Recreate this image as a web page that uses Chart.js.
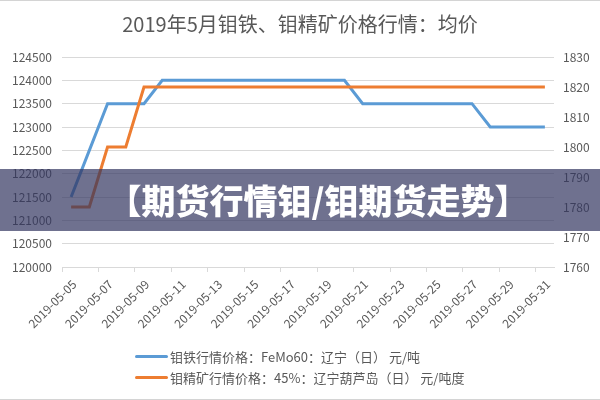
<!DOCTYPE html>
<html>
<head>
<meta charset="utf-8">
<script src="https://cdn.jsdelivr.net/npm/chart.js@4/dist/chart.umd.min.js"></script>
<style>
  body { margin: 0; background: #fff; font-family: "Noto Sans CJK SC", sans-serif; }
  #wrap { position: relative; width: 600px; height: 400px; overflow: hidden; }
  #chart { position: absolute; left: 0; top: 0; }
  .edge { position: absolute; left: 0; width: 600px; height: 1px; background: #d4d4d4; }
  #banner { position: absolute; left: 0; top: 169px; width: 600px; height: 62px; background: rgba(50, 52, 95, 0.7); }
  #banner span { position: absolute; left: 318px; top: 0; transform: translateX(-50%); line-height: 62px;
    color: #fff; font-size: 34px; font-weight: 900; white-space: nowrap; }
  .legend-row { position: absolute; left: 135px; height: 18px; display: flex; align-items: center;
    font-size: 13px; color: #595959; white-space: nowrap; }
  .legend-row i { display: inline-block; width: 33px; height: 3px; border-radius: 2px; margin-right: 2px; }
</style>
</head>
<body>
<div id="wrap">
  <canvas id="chart" width="600" height="400"></canvas>
  <div class="edge" style="top:0"></div>
  <div class="edge" style="top:399px"></div>
  <div id="legend"></div>
  <div id="banner"><span>【期货行情钼/钼期货走势】</span></div>
</div>
<script>
const TITLE = '2019年5月钼铁、钼精矿价格行情：均价';
const dates = [
    '2019-05-05', '2019-05-06', '2019-05-07', '2019-05-08', '2019-05-09', '2019-05-10', '2019-05-11',
    '2019-05-12', '2019-05-13', '2019-05-14', '2019-05-15', '2019-05-16', '2019-05-17', '2019-05-18',
    '2019-05-19', '2019-05-20', '2019-05-21', '2019-05-22', '2019-05-23', '2019-05-24', '2019-05-25',
    '2019-05-26', '2019-05-27', '2019-05-28', '2019-05-29', '2019-05-30', '2019-05-31'
];
const femoLabel = '钼铁行情价格：FeMo60：辽宁（日） 元/吨';
const femoPrices = [
    121500, 122500, 123500, 123500, 123500, 124000, 124000,
    124000, 124000, 124000, 124000, 124000, 124000, 124000,
    124000, 124000, 123500, 123500, 123500, 123500, 123500,
    123500, 123500, 123000, 123000, 123000, 123000
];
const oreLabel = '钼精矿行情价格：45%：辽宁葫芦岛（日） 元/吨度';
const orePrices = [
    1780, 1780, 1800, 1800, 1820, 1820, 1820,
    1820, 1820, 1820, 1820, 1820, 1820, 1820,
    1820, 1820, 1820, 1820, 1820, 1820, 1820,
    1820, 1820, 1820, 1820, 1820, 1820
];
const leftTicks = { min: 120000, max: 124500, step: 500 };
const rightTicks = { min: 1760, max: 1830, step: 10 };

const BLUE = '#5b9bd5', ORANGE = '#ed7d31', TEXT = '#595959', GRID = '#d9d9d9';
const FONT = '"Noto Sans CJK SC", sans-serif';

const chart = new Chart(document.getElementById('chart'), {
    type: 'line',
    data: {
        labels: dates,
        datasets: [
            { label: femoLabel, data: femoPrices, yAxisID: 'y', borderColor: BLUE, backgroundColor: BLUE,
              borderWidth: 3, pointRadius: 0, tension: 0, order: 1 },
            { label: oreLabel, data: orePrices, yAxisID: 'y1', borderColor: ORANGE, backgroundColor: ORANGE,
              borderWidth: 3, pointRadius: 0, tension: 0, order: 0 }
        ]
    },
    options: {
        responsive: false,
        animation: false,
        layout: { padding: 0 },
        plugins: {
            legend: { display: false },
            tooltip: { enabled: false },
            title: {
                display: true, text: TITLE, color: TEXT,
                font: { family: FONT, size: 20, weight: 'normal' },
                padding: { top: 12, bottom: 21 }
            }
        },
        scales: {
            x: {
                offset: true,
                afterFit: s => { s.height = 133; },
                border: { color: GRID },
                grid: {
                    offset: true, drawOnChartArea: false, tickLength: 5,
                    color: c => (c.index % 2 === 0 ? GRID : 'rgba(0,0,0,0)')
                },
                ticks: {
                    autoSkip: false, minRotation: 45, maxRotation: 45, padding: 5, labelOffset: 3,
                    color: TEXT, font: { family: FONT, size: 12 },
                    callback: (v, i) => (i % 2 === 0 ? dates[i] : '')
                }
            },
            y: {
                position: 'left',
                min: leftTicks.min, max: leftTicks.max,
                afterFit: s => { s.width = 62; },
                border: { display: false },
                grid: { color: GRID, drawTicks: false },
                ticks: { stepSize: leftTicks.step, padding: 10, color: TEXT,
                         font: { family: FONT, size: 12 }, callback: v => String(v) }
            },
            y1: {
                position: 'right',
                min: rightTicks.min, max: rightTicks.max,
                afterFit: s => { s.width = 46; },
                border: { display: false },
                grid: { drawOnChartArea: false, drawTicks: false },
                ticks: { stepSize: rightTicks.step, padding: 9, color: TEXT,
                         font: { family: FONT, size: 12 }, callback: v => String(v) }
            }
        }
    }
});

// legend rows, one per dataset, stacked like the original
const legend = document.getElementById('legend');
chart.data.datasets.forEach((ds, i) => {
    const row = document.createElement('div');
    row.className = 'legend-row';
    row.style.top = (347 + i * 21) + 'px';
    row.innerHTML = `<i style="background:${ds.borderColor}"></i><span>${ds.label}</span>`;
    legend.appendChild(row);
});
</script>
</body>
</html>
